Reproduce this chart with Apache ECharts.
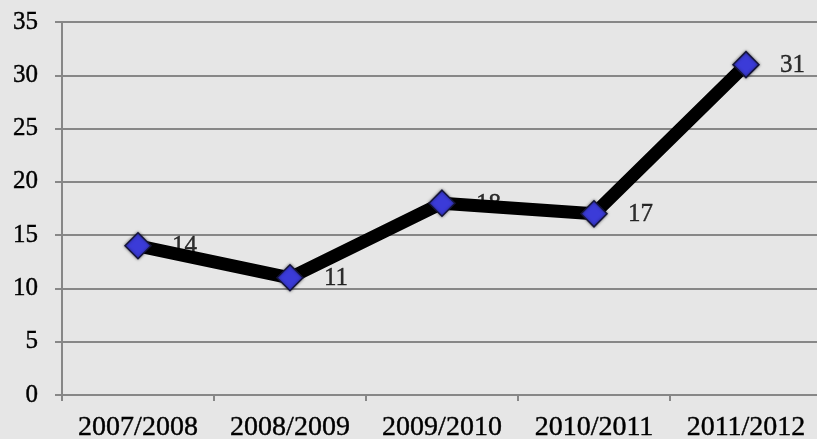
<!DOCTYPE html>
<html><head><meta charset="utf-8">
<script src="https://cdn.jsdelivr.net/npm/echarts@6/dist/echarts.min.js"></script>
<style>html,body{margin:0;padding:0;background:#e6e6e6}#c{width:817px;height:439px}</style>
</head><body><div id="c"></div>
<script>
const categories = ['2007/2008','2008/2009','2009/2010','2010/2011','2011/2012'];
const values = [14, 11, 18, 17, 31];
const yTicks = {min: 0, max: 35, interval: 5};

const chart = echarts.init(document.getElementById('c'));
const font = 'Liberation Serif';
const darken = {textBorderColor: '#000', textBorderWidth: 0.4};
chart.setOption({
  backgroundColor: '#e6e6e6',
  animation: false,
  grid: {left: 62, right: -5, top: 22, bottom: 44, containLabel: false, outerBoundsMode: 'none'},
  xAxis: {
    type: 'category', data: categories, boundaryGap: true,
    axisLine: {lineStyle: {color: '#878787', width: 2}},
    axisTick: {show: true, length: 6, alignWithLabel: false, lineStyle: {color: '#878787', width: 2}},
    axisLabel: Object.assign({color: '#000', fontFamily: font, fontSize: 28, margin: 19, interval: 0, hideOverlap: false}, darken),
    splitLine: {show: false}
  },
  yAxis: {
    type: 'value', min: yTicks.min, max: yTicks.max, interval: yTicks.interval,
    axisLine: {show: true, lineStyle: {color: '#878787', width: 2}},
    axisTick: {show: true, length: 7, lineStyle: {color: '#878787', width: 2}},
    axisLabel: Object.assign({color: '#000', fontFamily: font, fontSize: 25, margin: 24}, darken),
    splitLine: {lineStyle: {color: '#878787', width: 2}}
  },
  series: [
    {
      type: 'scatter', data: values, z: 1, symbolSize: 2,
      itemStyle: {color: 'rgba(0,0,0,0)'},
      label: Object.assign({show: true, position: 'right', distance: 33, color: '#000', fontFamily: font, fontSize: 25, offset: [0, 1]}, darken)
    },
    {
      type: 'line', data: values, z: 3,
      lineStyle: {color: '#000', width: 13},
      symbol: 'diamond', symbolSize: 26,
      itemStyle: {color: '#3b3bd8', borderColor: '#15153a', borderWidth: 1.5, shadowBlur: 3, shadowColor: 'rgba(0,0,0,0.5)'},
      label: {show: false}
    }
  ]
});
</script></body></html>
